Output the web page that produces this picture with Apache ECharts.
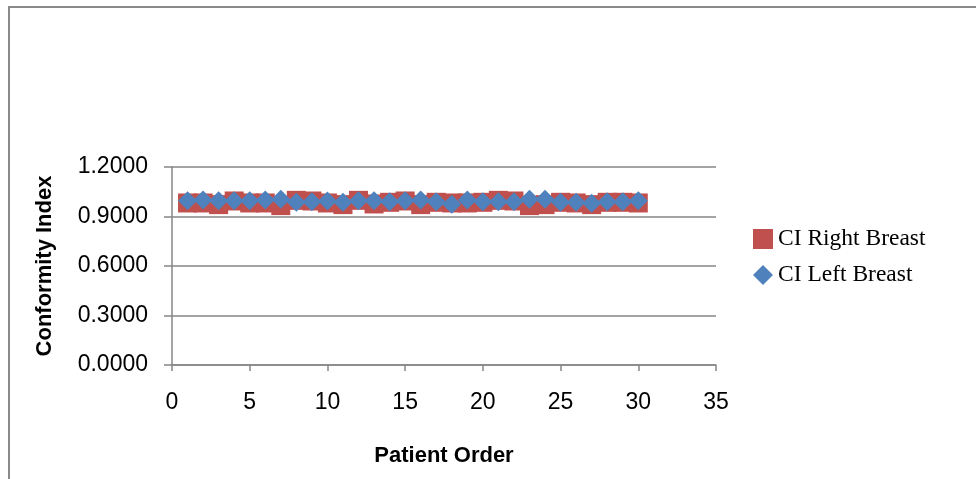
<!DOCTYPE html>
<html>
<head>
<meta charset="utf-8">
<script src="https://cdn.jsdelivr.net/npm/echarts@6/dist/echarts.min.js"></script>
<style>
html,body{margin:0;padding:0;background:#fff;}
#chart{width:976px;height:479px;}
</style>
</head>
<body>
<div id="chart"></div>
<script>
var patients = [1,2,3,4,5,6,7,8,9,10,11,12,13,14,15,16,17,18,19,20,21,22,23,24,25,26,27,28,29,30];
var ciRight = [0.982,0.982,0.972,0.994,0.982,0.982,0.966,0.998,0.994,0.982,0.972,0.998,0.976,0.986,0.994,0.972,0.986,0.982,0.982,0.986,0.998,0.994,0.966,0.972,0.986,0.982,0.972,0.986,0.986,0.982];
var ciLeft = [0.996,1.000,0.996,0.996,0.996,1.000,1.004,0.986,0.990,0.994,0.986,0.996,0.996,0.990,0.996,1.000,0.990,0.974,1.000,0.990,0.990,0.990,1.004,1.004,0.986,0.986,0.980,0.990,0.990,0.996];
var seriesNames = ['CI Right Breast','CI Left Breast'];
var xTicks = [0,5,10,15,20,25,30,35];
var yTicks = [0,0.3,0.6,0.9,1.2];

function pairs(vals){ return patients.map(function(p,i){ return [p, vals[i]]; }); }

var sans = '"Liberation Sans", Arial, sans-serif';
var chart = echarts.init(document.getElementById('chart'));
chart.setOption({
  animation: false,
  backgroundColor: '#fff',
  graphic: [{
    type: 'rect', silent: true,
    shape: {x: 9, y: 7, width: 1100, height: 600},
    style: {fill: 'none', stroke: '#8a8a8a', lineWidth: 2}
  }],
  grid: {left: 172, top: 167, right: 260, bottom: 114},
  legend: {
    orient: 'vertical', left: 748, top: 222, itemGap: 12,
    itemWidth: 20, itemHeight: 20,
    textStyle: {fontFamily: '"Liberation Serif", "Times New Roman", serif', fontSize: 23.5, color: '#000'},
    data: [{name: seriesNames[0], icon: 'rect'}, {name: seriesNames[1], icon: 'diamond'}]
  },
  xAxis: {
    type: 'value', min: xTicks[0], max: xTicks[xTicks.length-1], interval: 5,
    name: 'Patient Order', nameLocation: 'middle', nameGap: 80,
    nameTextStyle: {fontFamily: sans, fontSize: 22, fontWeight: 'bold', color: '#000'},
    axisLine: {show: true, lineStyle: {color: '#868686', width: 1.5}},
    axisTick: {show: true, length: 6, lineStyle: {color: '#868686', width: 1.5}},
    axisLabel: {fontFamily: sans, fontSize: 23, color: '#000', margin: 26},
    splitLine: {show: false}
  },
  yAxis: {
    type: 'value', min: yTicks[0], max: yTicks[yTicks.length-1], interval: 0.3,
    name: 'Conformity Index', nameLocation: 'middle', nameGap: 116, nameRotate: 90,
    nameTextStyle: {fontFamily: sans, fontSize: 22, fontWeight: 'bold', color: '#000'},
    axisLine: {show: true, lineStyle: {color: '#868686', width: 1.5}},
    axisTick: {show: true, length: 8, lineStyle: {color: '#868686', width: 1.5}},
    axisLabel: {fontFamily: sans, fontSize: 23, color: '#000', margin: 24,
      formatter: function(v){ return v.toFixed(4); }},
    splitLine: {show: true, lineStyle: {color: '#868686', width: 1.5}}
  },
  series: [
    {name: seriesNames[0], type: 'scatter', symbol: 'rect', symbolSize: 19,
     itemStyle: {color: '#C0504D', opacity: 1}, data: pairs(ciRight)},
    {name: seriesNames[1], type: 'scatter', symbol: 'diamond', symbolSize: 19,
     itemStyle: {color: '#4F81BD', opacity: 1}, data: pairs(ciLeft)}
  ]
});
</script>
</body>
</html>
